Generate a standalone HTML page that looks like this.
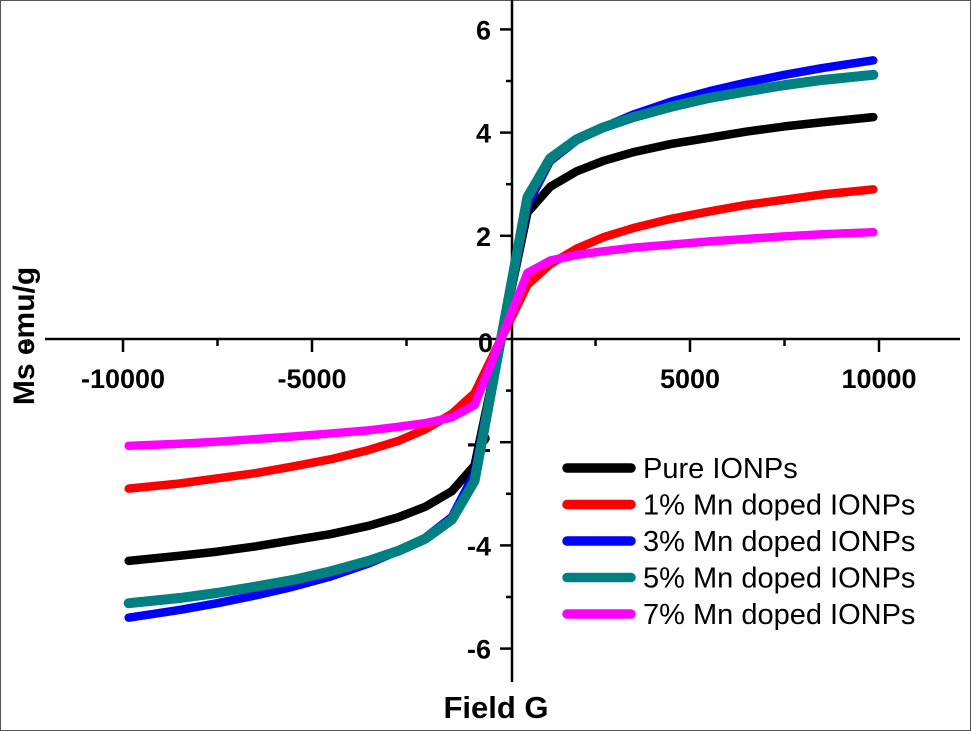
<!DOCTYPE html>
<html><head><meta charset="utf-8"><style>
body{margin:0;background:#fff}
svg{display:block;font-family:"Liberation Sans",Arial,sans-serif}
</style></head><body>
<svg id="chart" width="971" height="731" viewBox="0 0 971 731">
<rect x="0.5" y="0.5" width="970" height="730" fill="#fff" stroke="#555"/>
<g id="axes"></g>
<g id="series"></g>
<g id="legend"></g>
<text x="34" y="336" transform="rotate(-90 34 336)" text-anchor="middle" font-size="30" font-weight="bold">Ms emu/g</text>
<text x="496" y="718" text-anchor="middle" font-size="31" font-weight="bold">Field G</text>
</svg>
<script>
const fields=[700,1300,2000,2700,3500,4500,5500,6500,7500,8500,9850];
const seriesNames=["Pure IONPs","1% Mn doped IONPs","3% Mn doped IONPs","5% Mn doped IONPs","7% Mn doped IONPs"];
const seriesColors=["#000000","#ff0000","#0000ff","#008080","#ff00ff"];
const pureVals=[2.45,2.95,3.25,3.45,3.62,3.78,3.9,4.02,4.12,4.2,4.3];
const mn1Vals=[1.05,1.45,1.75,1.97,2.15,2.33,2.47,2.6,2.7,2.8,2.9];
const mn3Vals=[2.6,3.45,3.85,4.1,4.35,4.6,4.8,4.97,5.12,5.25,5.4];
const mn5Vals=[2.75,3.5,3.87,4.1,4.3,4.5,4.67,4.8,4.92,5.02,5.12];
const mn7Vals=[1.28,1.52,1.63,1.7,1.77,1.83,1.89,1.94,1.99,2.03,2.07];
const xTicks=[-10000,-5000,5000,10000];
const yTicks=[-6,-4,-2,2,4,6];
const NS="http://www.w3.org/2000/svg";
const X=v=>501+v*0.0378;
const Y=v=>339-v*51.6;
function mk(t,a,p){const e=document.createElementNS(NS,t);for(const k in a)e.setAttribute(k,a[k]);p.appendChild(e);return e;}
const ax=document.getElementById('axes');
let xl=mk('line',{x1:45,x2:960,y1:339,y2:339,stroke:'#000','stroke-width':2.5},ax);


let yl=mk('line',{x1:512,x2:512,y1:0,y2:682,stroke:'#000','stroke-width':2.5},ax);


for(let v=-12500;v<=12500;v+=2500){if(v===0)continue;const major=v%5000===0;
 let t=mk('line',{x1:X(v),x2:X(v),y1:339,y2:major?352:346,stroke:'#000','stroke-width':2.5},ax);
 
 }
xTicks.forEach(v=>{let t=mk('text',{x:X(v),y:388,'text-anchor':'middle','font-size':27,'font-weight':'bold'},ax);t.textContent=v;
 
 });
for(let v=-6;v<=6;v+=1){if(v===0)continue;const major=v%2===0;
 let t=mk('line',{x1:major?500:506,x2:512,y1:Y(v),y2:Y(v),stroke:'#000','stroke-width':2.5},ax);
 
 }
yTicks.forEach(v=>{let t=mk('text',{x:491,y:Y(v)+10,'text-anchor':'end','font-size':27,'font-weight':'bold'},ax);t.textContent=v;
 
 });
let z=mk('text',{x:493,y:352,'text-anchor':'end','font-size':27,'font-weight':'bold'},ax);z.textContent='0';


const sg=document.getElementById('series');
[pureVals,mn1Vals,mn3Vals,mn5Vals,mn7Vals].forEach((vals,i)=>{
 const pts=[];
 for(let k=fields.length-1;k>=0;k--)pts.push([X(-fields[k]),Y(-vals[k])]);
 pts.push([X(0),Y(0)]);
 for(let k=0;k<fields.length;k++)pts.push([X(fields[k]),Y(vals[k])]);
 let p=mk('polyline',{points:pts.map(q=>q.join(',')).join(' '),fill:'none',stroke:seriesColors[i],'stroke-width':i===3?10:8.5,'stroke-linejoin':'round','stroke-linecap':'round'},sg);
 
 
});
const lg=document.getElementById('legend');
seriesNames.forEach((n,i)=>{const y=468+i*36.5;
 let l=mk('line',{x1:567,x2:631,y1:y,y2:y,stroke:seriesColors[i],'stroke-width':9.5,'stroke-linecap':'round'},lg);
 
 
 let t=mk('text',{x:643,y:y+10,'font-size':29},lg);t.textContent=n;
 
 });
</script>
</body></html>
